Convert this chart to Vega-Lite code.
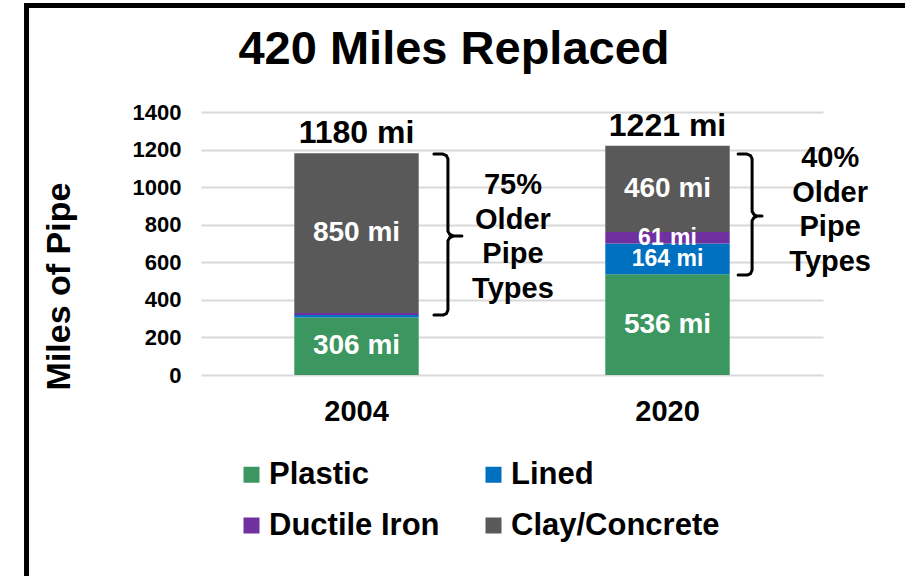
{
  "$schema": "https://vega.github.io/schema/vega-lite/v6.json",
  "width": 622,
  "height": 263,
  "autosize": {"type": "none"},
  "padding": {"left": 201, "top": 112, "right": 82, "bottom": 201},
  "background": "white",
  "config": {
    "font": "Liberation Sans",
    "view": {"stroke": null},
    "axis": {"labelFont": "Liberation Sans", "labelFontWeight": "bold", "labelColor": "black", "titleColor": "black", "titleFont": "Liberation Sans", "titleFontWeight": "bold", "ticks": false, "domain": false},
    "axisY": {"gridColor": "#D9D9D9", "gridWidth": 2, "labelFontSize": 22, "labelPadding": 20, "labelOverlap": false, "titleFontSize": 34, "titleX": -142, "titleY": 174, "titleBaseline": "middle", "titleAngle": 270, "titleAlign": "center"},
    "axisX": {"grid": false, "labelFontSize": 29, "labelPadding": 22, "labelAngle": 0},
    "legend": {"labelFont": "Liberation Sans", "labelFontSize": 31, "labelFontWeight": "bold", "labelColor": "black", "labelLimit": 400, "symbolType": "square", "symbolSize": 256, "symbolStrokeWidth": 0, "columnPadding": 38, "rowPadding": 19, "labelOffset": 2}
  },
  "title": {"text": "420 Miles Replaced", "font": "Liberation Sans", "fontSize": 47, "fontWeight": "bold", "color": "black", "anchor": "middle", "frame": "group", "dx": -58, "offset": -108, "baseline": "alphabetic"},
  "datasets": {
    "pipe": [
      {"year": "2004", "type": "Plastic", "k": 1, "miles": 306},
      {"year": "2004", "type": "Lined", "k": 2, "miles": 13},
      {"year": "2004", "type": "Ductile Iron", "k": 3, "miles": 11},
      {"year": "2004", "type": "Clay/Concrete", "k": 4, "miles": 850},
      {"year": "2020", "type": "Plastic", "k": 1, "miles": 536},
      {"year": "2020", "type": "Lined", "k": 2, "miles": 164},
      {"year": "2020", "type": "Ductile Iron", "k": 3, "miles": 61},
      {"year": "2020", "type": "Clay/Concrete", "k": 4, "miles": 460}
    ],
    "braces": [
      {"brace": "2004", "seq": 1, "bx": 0.749, "miles": 1176},
      {"brace": "2004", "seq": 2, "bx": 0.778, "miles": 1176},
      {"brace": "2004", "seq": 3, "bx": 0.789, "miles": 1168},
      {"brace": "2004", "seq": 4, "bx": 0.794, "miles": 1150},
      {"brace": "2004", "seq": 5, "bx": 0.794, "miles": 765},
      {"brace": "2004", "seq": 6, "bx": 0.800, "miles": 748},
      {"brace": "2004", "seq": 7, "bx": 0.812, "miles": 740},
      {"brace": "2004", "seq": 8, "bx": 0.839, "miles": 740},
      {"brace": "2004", "seq": 9, "bx": 0.812, "miles": 740},
      {"brace": "2004", "seq": 10, "bx": 0.800, "miles": 732},
      {"brace": "2004", "seq": 11, "bx": 0.794, "miles": 715},
      {"brace": "2004", "seq": 12, "bx": 0.794, "miles": 345},
      {"brace": "2004", "seq": 13, "bx": 0.789, "miles": 327},
      {"brace": "2004", "seq": 14, "bx": 0.778, "miles": 319},
      {"brace": "2004", "seq": 15, "bx": 0.749, "miles": 319},
      {"brace": "2020", "seq": 1, "bx": 1.727, "miles": 1176},
      {"brace": "2020", "seq": 2, "bx": 1.756, "miles": 1176},
      {"brace": "2020", "seq": 3, "bx": 1.767, "miles": 1168},
      {"brace": "2020", "seq": 4, "bx": 1.772, "miles": 1150},
      {"brace": "2020", "seq": 5, "bx": 1.772, "miles": 871},
      {"brace": "2020", "seq": 6, "bx": 1.778, "miles": 854},
      {"brace": "2020", "seq": 7, "bx": 1.788, "miles": 846},
      {"brace": "2020", "seq": 8, "bx": 1.804, "miles": 846},
      {"brace": "2020", "seq": 9, "bx": 1.788, "miles": 846},
      {"brace": "2020", "seq": 10, "bx": 1.778, "miles": 838},
      {"brace": "2020", "seq": 11, "bx": 1.772, "miles": 821},
      {"brace": "2020", "seq": 12, "bx": 1.772, "miles": 558},
      {"brace": "2020", "seq": 13, "bx": 1.767, "miles": 540},
      {"brace": "2020", "seq": 14, "bx": 1.756, "miles": 532},
      {"brace": "2020", "seq": 15, "bx": 1.727, "miles": 532}
    ],
    "notes": [
      {"note": "75%\nOlder\nPipe\nTypes", "bx": 1.003, "miles": 1011},
      {"note": "40%\nOlder\nPipe\nTypes", "bx": 2.023, "miles": 1155}
    ],
    "frame": [
      {"left": -0.561, "right": 2.35, "top": 1967, "bottom": -1300}
    ]
  },
  "layer": [
    {
      "data": {"name": "pipe"},
      "layer": [
        {
          "mark": {"type": "bar"},
          "transform": [{"stack": "miles", "groupby": ["year"], "sort": [{"field": "k", "order": "ascending"}], "as": ["lo", "hi"]}],
          "encoding": {
            "x": {"field": "year", "type": "nominal", "scale": {"paddingInner": 0.6, "paddingOuter": 0.3}, "axis": {"title": null}},
            "y": {"field": "hi", "type": "quantitative", "scale": {"domain": [0, 1400]}, "axis": {"values": [0, 200, 400, 600, 800, 1000, 1200, 1400], "format": "d"}, "title": "Miles of Pipe"},
            "y2": {"field": "lo"},
            "color": {"field": "type", "type": "nominal", "scale": {"domain": ["Plastic", "Lined", "Ductile Iron", "Clay/Concrete"], "range": ["#3B9660", "#0070C0", "#7030A0", "#595959"]}, "legend": {"title": null, "orient": "none", "legendX": 35, "legendY": 347, "columns": 2, "direction": "horizontal"}}
          }
        },
        {
          "mark": {"type": "text", "color": "white", "fontWeight": "bold", "baseline": "middle", "font": "Liberation Sans"},
          "transform": [
            {"stack": "miles", "groupby": ["year"], "sort": [{"field": "k", "order": "ascending"}], "as": ["lo", "hi"]},
            {"calculate": "(datum.lo + datum.hi) / 2", "as": "mid"},
            {"filter": "datum.miles >= 50"},
            {"calculate": "datum.miles + ' mi'", "as": "label"}
          ],
          "encoding": {
            "x": {"field": "year", "type": "nominal"},
            "y": {"field": "mid", "type": "quantitative", "scale": {"domain": [0, 1400]}, "axis": {"values": [0, 200, 400, 600, 800, 1000, 1200, 1400], "format": "d"}, "title": "Miles of Pipe"},
            "text": {"field": "label"},
            "size": {"condition": {"test": "datum.miles < 200", "value": 23}, "value": 28}
          }
        },
        {
          "mark": {"type": "text", "color": "black", "fontWeight": "bold", "fontSize": 32, "baseline": "alphabetic", "dy": -10, "font": "Liberation Sans"},
          "transform": [
            {"aggregate": [{"op": "sum", "field": "miles", "as": "total"}], "groupby": ["year"]},
            {"calculate": "datum.total + ' mi'", "as": "label"}
          ],
          "encoding": {
            "x": {"field": "year", "type": "nominal"},
            "y": {"field": "total", "type": "quantitative", "scale": {"domain": [0, 1400]}, "axis": {"values": [0, 200, 400, 600, 800, 1000, 1200, 1400], "format": "d"}, "title": "Miles of Pipe"},
            "text": {"field": "label"}
          }
        }
      ]
    },
    {
      "layer": [
        {
          "data": {"name": "frame"},
          "mark": {"type": "rect", "filled": false, "stroke": "black", "strokeWidth": 5},
          "encoding": {
            "x": {"field": "left", "type": "quantitative", "scale": {"domain": [0, 2], "nice": false, "zero": false}, "axis": null},
            "x2": {"field": "right"},
            "y": {"field": "top", "type": "quantitative", "scale": {"domain": [0, 1400]}, "axis": {"values": [0, 200, 400, 600, 800, 1000, 1200, 1400], "format": "d"}, "title": "Miles of Pipe"},
            "y2": {"field": "bottom"}
          }
        },
        {
          "data": {"name": "braces"},
          "mark": {"type": "line", "color": "black", "strokeWidth": 3, "strokeJoin": "round", "strokeCap": "round"},
          "encoding": {
            "x": {"field": "bx", "type": "quantitative", "scale": {"domain": [0, 2], "nice": false, "zero": false}, "axis": null},
            "y": {"field": "miles", "type": "quantitative", "scale": {"domain": [0, 1400]}, "axis": {"values": [0, 200, 400, 600, 800, 1000, 1200, 1400], "format": "d"}, "title": "Miles of Pipe"},
            "detail": {"field": "brace"},
            "order": {"field": "seq"}
          }
        },
        {
          "data": {"name": "notes"},
          "mark": {"type": "text", "color": "black", "fontWeight": "bold", "fontSize": 29, "lineBreak": "\n", "lineHeight": 34.5, "baseline": "middle", "align": "center", "font": "Liberation Sans"},
          "encoding": {
            "x": {"field": "bx", "type": "quantitative", "scale": {"domain": [0, 2], "nice": false, "zero": false}, "axis": null},
            "y": {"field": "miles", "type": "quantitative", "scale": {"domain": [0, 1400]}, "axis": {"values": [0, 200, 400, 600, 800, 1000, 1200, 1400], "format": "d"}, "title": "Miles of Pipe"},
            "text": {"field": "note"}
          }
        }
      ]
    }
  ],
  "resolve": {"scale": {"x": "independent"}}
}
